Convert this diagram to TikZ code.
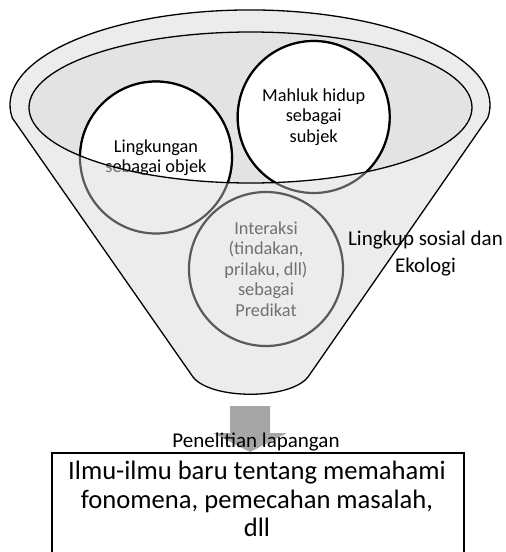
\documentclass[tikz,border=0pt]{standalone}
\usepackage{fontspec}
\setmainfont{Carlito}
\definecolor{funnelfill}{HTML}{ECECEC}
\definecolor{innerfill}{HTML}{E3E3E3}
\definecolor{ringgray}{HTML}{5A5A5A}
\definecolor{textgray}{HTML}{707070}
\definecolor{arrowgray}{HTML}{A6A6A6}
\tikzset{
  outline/.style={draw=black, line width=1.3pt},
  ring/.style={circle, draw=ringgray, line width=2.2pt, inner sep=0pt, text=textgray, align=center,
    font=\fontsize{18.3}{20.5}\selectfont},
  ringlit/.style={circle, draw=black, fill=white, line width=2.2pt, inner sep=0pt, text=black, align=center,
    font=\fontsize{18.3}{20.5}\selectfont},
  plain/.style={align=center, inner sep=0pt},
}
\begin{document}
\begin{tikzpicture}[x=1pt,y=-1pt]
\useasboundingbox (0,0) rectangle (506,552);
% funnel body
\filldraw[outline, fill=funnelfill] (12.3,118)
  arc[start angle=172.1, end angle=367.9, x radius=240, y radius=95]
  -- (308,377) .. controls (290,400) and (211,400) .. (193,377) -- cycle;
% inner ellipse fill
\fill[innerfill] (250.5,107.5) ellipse[x radius=221.5, y radius=75.5];
% circles (outside part, gray)
\node[ring, minimum size=152pt] (lk) at (156,157.5) {Lingkungan\\sebagai objek};
\node[ring, minimum size=152pt] (mh) at (313.7,117) {Mahluk hidup\\sebagai\\subjek};
\node[ring, minimum size=154pt] (ia) at (266,269) {Interaksi\\(tindakan,\\prilaku, dll)\\sebagai\\Predikat};
% parts inside the inner ellipse
\begin{scope}
  \clip (250.5,107.5) ellipse[x radius=221.5, y radius=75.5];
  \node[ringlit, minimum size=152pt] at (lk.center) {Lingkungan\\sebagai objek};
  \node[ringlit, minimum size=152pt] at (mh.center) {Mahluk hidup\\sebagai\\subjek};
\end{scope}
% inner ellipse outline on top
\draw[outline] (250.5,107.5) ellipse[x radius=221.5, y radius=75.5];
% side label
\node[plain, font=\fontsize{21}{27}\selectfont] (lingkup) at (425.5,253.5) {Lingkup sosial dan\\Ekologi};
% block arrow
\coordinate (atop) at (250,406);
\coordinate (atip) at (250,452);
\fill[arrowgray] ([xshift=-20pt]atop) -- ([xshift=20pt]atop) -- ([xshift=20pt]atop |- 0,433)
  -- ([xshift=37pt]atop |- 0,433) -- (atip) -- ([xshift=-37pt]atop |- 0,433)
  -- ([xshift=-20pt]atop |- 0,433) -- cycle;
\node[plain, anchor=base, font=\fontsize{21}{24}\selectfont] (pen) at (256,447) {Penelitian lapangan};
% result box
\node[draw=black, fill=white, line width=2pt, anchor=north west, minimum width=412pt, minimum height=115pt, inner sep=0pt] (box) at (51,452) {};
\node[plain, font=\fontsize{26.6}{28.5}\selectfont] (res) at (257,499.3) {Ilmu-ilmu baru tentang memahami\\fonomena, pemecahan masalah,\\dll};
\end{tikzpicture}
\end{document}
